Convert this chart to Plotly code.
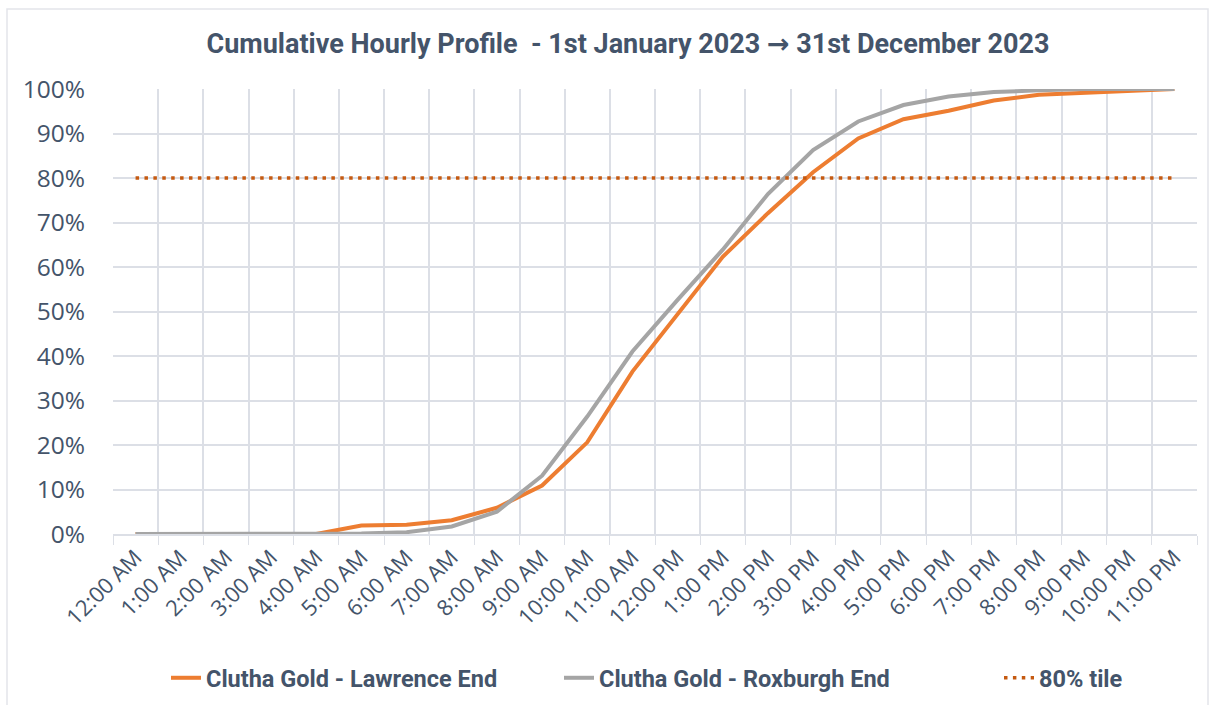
import plotly.graph_objects as go

# Hour-of-day categories
hours = [
    "12:00 AM", "1:00 AM", "2:00 AM", "3:00 AM", "4:00 AM", "5:00 AM",
    "6:00 AM", "7:00 AM", "8:00 AM", "9:00 AM", "10:00 AM", "11:00 AM",
    "12:00 PM", "1:00 PM", "2:00 PM", "3:00 PM", "4:00 PM", "5:00 PM",
    "6:00 PM", "7:00 PM", "8:00 PM", "9:00 PM", "10:00 PM", "11:00 PM",
]

# Cumulative share of daily counts (%)
lawrence_end = [0, 0, 0, 0, 0, 1.9, 2.1, 3.1, 5.9, 10.9, 20.6, 36.5,
                49.4, 62.3, 72.1, 81.3, 88.9, 93.2, 95.1, 97.4, 98.7, 99.2, 99.6, 100]
roxburgh_end = [0, 0, 0, 0, 0, 0.1, 0.4, 1.7, 5.0, 13.1, 26.4, 41.0,
                52.6, 63.9, 76.4, 86.3, 92.7, 96.4, 98.3, 99.3, 99.7, 100, 100, 100]
tile_80 = [80] * len(hours)

y_ticks = [0, 10, 20, 30, 40, 50, 60, 70, 80, 90, 100]
y_tick_labels = [f"{v}%" for v in y_ticks]

TEXT = "#44546A"
GRID = "#DCDFE6"
W, H = 1214, 705
ML, MR, MT, MB = 113, 17, 89, 171

fig = go.Figure()
fig.add_trace(go.Scatter(
    x=hours, y=lawrence_end, mode="lines", name="Clutha Gold - Lawrence End",
    line=dict(color="#ED7D31", width=4), legend="legend",
))
fig.add_trace(go.Scatter(
    x=hours, y=roxburgh_end, mode="lines", name="Clutha Gold - Roxburgh End",
    line=dict(color="#A5A5A5", width=4), legend="legend2",
))
fig.add_trace(go.Scatter(
    x=hours, y=tile_80, mode="lines", name="80% tile",
    line=dict(color="#C55A11", width=3.5, dash="3.5px,5.4px"), legend="legend3",
))

legend_font = dict(family="Roboto, sans-serif", size=23.5, color=TEXT, weight="bold")
common_legend = dict(orientation="h", xref="container", yref="container",
                     yanchor="middle", xanchor="left", y=1 - 678 / H,
                     font=legend_font, bgcolor="rgba(0,0,0,0)")

arrow = '<span style="font-family:DejaVu Sans">\u2192</span>'
fig.update_layout(
    width=W, height=H,
    margin=dict(l=ML, r=MR, t=MT, b=MB),
    paper_bgcolor="white", plot_bgcolor="white",
    title=dict(
        text=f"Cumulative Hourly Profile  - 1st January 2023 {arrow} 31st December 2023",
        x=628 / W, xref="container", xanchor="center",
        y=1 - 44 / H, yref="container", yanchor="middle",
        font=dict(family="Roboto, sans-serif", size=27, color=TEXT, weight="bold"),
    ),
    legend=dict(common_legend, x=166 / W),
    legend2=dict(common_legend, x=559 / W),
    legend3=dict(common_legend, x=999 / W),
    showlegend=True,
    xaxis=dict(
        type="category", tickson="boundaries", ticks="outside", ticklen=9,
        tickcolor=GRID, showgrid=True, gridcolor=GRID, gridwidth=1.5,
        showline=True, linecolor=GRID, linewidth=1.5, tickangle=-45,
        tickfont=dict(family="Open Sans, sans-serif", size=22, color=TEXT),
        range=[-0.5, len(hours) - 0.5], zeroline=False,
    ),
    yaxis=dict(
        range=[0, 100], tickvals=y_ticks, ticktext=y_tick_labels,
        showgrid=True, gridcolor=GRID, gridwidth=1.5, zeroline=False,
        showline=False, ticks="", ticklabelstandoff=27,
        tickfont=dict(family="Open Sans, sans-serif", size=24.5, color=TEXT),
    ),
)

# light frame around the chart area
pw = W - ML - MR
ph = H - MT - MB
fig.add_shape(
    type="rect", xref="paper", yref="paper",
    x0=(7 - ML) / pw, x1=(1208 - ML) / pw,
    y0=(H - MB - 730) / ph, y1=(H - MB - 9) / ph,
    line=dict(color="#E3E5EA", width=1.5), fillcolor="rgba(0,0,0,0)", layer="below",
)

fig.write_html("out.html")
